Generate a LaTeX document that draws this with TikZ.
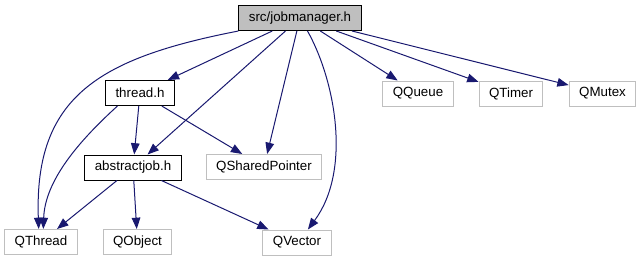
\documentclass[tikz,border=0pt]{standalone}
\usepackage{fontspec}
\setmainfont{Liberation Sans}
\usepackage{tikz}
\usetikzlibrary{arrows.meta}
\definecolor{edgeblue}{HTML}{191970}
\definecolor{boxgray}{HTML}{BFBFBF}

\begin{document}
\begin{tikzpicture}[x=0.75pt, y=-0.75pt,
		file/.style={draw, line width=0.75pt, inner xsep=7.5pt, minimum height=18.75pt, font=\fontsize{10pt}{12pt}\selectfont},
		ext/.style={file, draw=boxgray},
		dep/.style={draw=edgeblue, line width=0.75pt, -{Triangle[length=8.5pt, width=6.5pt]}}]
			\useasboundingbox (0,0) rectangle (642,261);
			\node[file, fill=boxgray] (jm) at (300,18) {src/jobmanager.h};
			\node[file] (thread) at (140,93) {thread.h};
			\node[ext] (qqueue) at (418,93.5) {QQueue};
			\node[ext] (qtimer) at (511,93.5) {QTimer};
			\node[ext] (qmutex) at (602.5,93.5) {QMutex};
			\node[file] (abstractjob) at (133,167.5) {abstractjob.h};
			\node[ext] (qsharedptr) at (264,167) {QSharedPointer};
			\node[ext] (qthread) at (41,242) {QThread};
			\node[ext] (qobject) at (137.5,242) {QObject};
			\node[ext] (qvector) at (297,242.5) {QVector};
			\draw[dep] (jm.south west) .. controls (100,58) and (34,96) .. (qthread.100);
			\draw[dep] (jm) -- (thread);
			\draw[dep] (jm) -- (abstractjob);
			\draw[dep] (jm) -- (qsharedptr);
			\draw[dep] (jm.-60) .. controls (335,80) and (352,170) .. (qvector.50);
			\draw[dep] (jm) -- (qqueue);
			\draw[dep] (jm) -- (qtimer);
			\draw[dep] (jm) -- (qmutex);
			\draw[dep] (thread) -- (abstractjob);
			\draw[dep] (thread) -- (qsharedptr);
			\draw[dep] (thread.-150) .. controls (80,140) and (45,180) .. (qthread.80);
			\draw[dep] (abstractjob) -- (qthread);
			\draw[dep] (abstractjob) -- (qobject);
			\draw[dep] (abstractjob) -- (qvector);
		\end{tikzpicture}
\end{document}
